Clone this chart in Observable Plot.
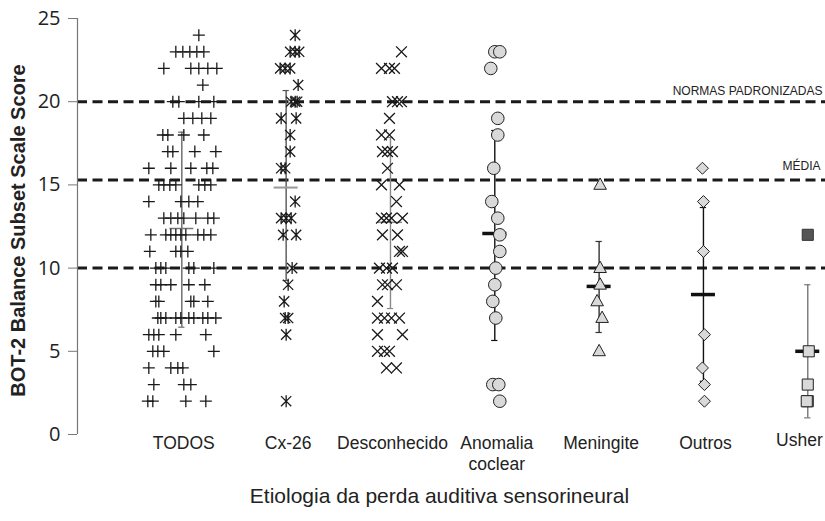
<!DOCTYPE html>
<html>
<head>
<meta charset="utf-8">
<script src="https://cdn.jsdelivr.net/npm/d3@7"></script>
<script src="https://cdn.jsdelivr.net/npm/@observablehq/plot@0.6"></script>
<style>
  html, body { margin: 0; padding: 0; background: #fff; }
</style>
</head>
<body>
<div id="chart"></div>
<script>
// ---------- data ----------
const categories = ["TODOS", "Cx-26", "Desconhecido", "Anomalia\ncoclear", "Meningite", "Outros", "Usher"];
const yTicks = [0, 5, 10, 15, 20, 25];
const refLines = [20, 15.3, 10];
const refLabels = ["NORMAS PADRONIZADAS", "MÉDIA"];
const yTitle = "BOT-2 Balance Subset Scale Score";
const xTitle = "Etiologia da perda auditiva sensorineural";

// scores of individual children, with the horizontal scatter seen in the picture (px)
const todosScores = [24, 23,23,23,23,23, 22,22,22,22,22, 21, 20,20,20,20, 19,19,19,19, 18,18,18,18, 17,17,17,17, 16,16,16,16,16, 15,15,15,15,15,15,15, 14,14,14,14, 13,13,13,13,13,13,13, 12,12,12,12,12,12,12,12,12, 11,11,11,11, 10,10,10,10,10,10, 9,9,9,9,9, 8,8,8,8,8, 7,7,7,7,7,7,7,7,7,7, 6,6,6,6,6, 5,5,5,5, 4,4,4,4, 3,3,3, 2,2,2,2];
const todosJitter = [17, -6,1,8,15,22, -18,9,17,26,35, 21, -9,-3,17,32, 2,11,20,29, -19,-14,2,22, -14,-9,13,34, -33,-11,9,25,31, -23,-18,-12,-6,17,23,29, -33,-1,7,16, -18,-11,-4,2,14,26,32, -31,-16,-11,-6,-1,4,16,22,29, -32,-6,-1,6, -26,-21,-16,7,12,32, -26,-21,-11,7,23, -26,-23,9,12,26, -24,-21,-16,-6,-1,7,12,21,26,34, -33,-28,-23,-6,24, -29,-24,-18,32, -33,-11,-4,1, -28,2,9, -34,-29,4,24];

const cx26Scores = [24, 23,23,23, 22,22,22, 21, 20,20,20, 19,19, 18, 17, 16,16, 14, 13,13,13, 12,12, 10, 9, 8, 7,7, 6, 2];
const cx26Jitter = [9, 4,9,13, -6,-1,4, 12, 5,9,11, -5,10, 4, 4, -5,-1, 9, -5,0,5, -3,10, 6, 2, -2, -1,2, 0, 0];

const descScores = [23, 22,22,22, 20,20,20, 19, 18,18, 17,17,17, 16, 15,15, 14, 13,13,13,13, 12,12, 11,11, 10,10,10, 9,9,9, 8, 7,7,7,7, 6,6, 5,5,5, 4,4];
const descJitter = [11, -9,-1,4, 2,7,11, -1, -9,-1, -8,-3,2, -3, -9,9, 6, -9,-4,1,12, -8,7, 9,12, -11,-4,2, -8,-3,6, -13, -13,-6,1,9, -13,12, -13,-6,-1, -4,6];

const anomScores = [23,23, 22, 19, 18, 16, 14, 13, 12, 11, 10, 9, 8, 7, 3,3, 2];
const anomJitter = [0,5, -4, 3, 3, -1, -3, 3, 5, 5, 1, 0, -2, 1, -2,4, 5];

const meningScores = [15, 10, 9, 8, 7, 5];
const meningJitter = [1, 1, 1, -2, 3, 0];

const outrosScores = [16, 14, 11, 6, 4, 3, 2];
const outrosJitter = [-1, 0, 0, 1, -1, 1, 1];

const usherScores = [5, 3, 2, 2];
const usherJitter = [1, 0, 0, -1];
const usherOutlier = [12];

// group mean and ±1 SD bars
const groupMeans = [12.38, 14.84, 12.75, 12.08, 8.9, 8.41, 5.0];
const groupLows  = [6.45, 9.25, 7.57, 5.65, 6.13, 3.2, 1.0];
const groupHighs = [18.17, 20.67, 17.85, 18.27, 11.6, 13.64, 9.0];

// ---------- styles ----------
const barStroke  = ["#666", "#555", "#888", "#111", "#333", "#111", "#777"];
const meanStroke = ["#777", "#999", "#888", "#111", "#111", "#111", "#111"];
const meanWidth  = [1.5, 2, 1.5, 3.5, 3.5, 3.5, 3.5];
const PX = 104.32; // one category step in px (used to convert scatter)

const plusSym = {draw(c, s) { const r = Math.sqrt(s / Math.PI); c.moveTo(-r, 0); c.lineTo(r, 0); c.moveTo(0, -r); c.lineTo(0, r); }};
const timesSym = {draw(c, s) { const r = Math.sqrt(s / Math.PI) * 0.9; c.moveTo(-r, -r); c.lineTo(r, r); c.moveTo(-r, r); c.lineTo(r, -r); }};
const starSym = {draw(c, s) { const r = Math.sqrt(s / Math.PI); const q = r * 0.85; c.moveTo(-q, -q); c.lineTo(q, q); c.moveTo(-q, q); c.lineTo(q, -q); c.moveTo(0, -r); c.lineTo(0, r); }};
const triSym = {draw(c, s) { const r = Math.sqrt(s / Math.PI); c.moveTo(0, -r * 1.1); c.lineTo(r, r * 0.7); c.lineTo(-r, r * 0.7); c.closePath(); }};
const diaSym = {draw(c, s) { const r = Math.sqrt(s / Math.PI); c.moveTo(0, -r); c.lineTo(r, 0); c.lineTo(0, r); c.lineTo(-r, 0); c.closePath(); }};
const sqSym = {draw(c, s) { const r = Math.sqrt(s / Math.PI) * 0.88; c.moveTo(-r, -r); c.lineTo(r, -r); c.lineTo(r, r); c.lineTo(-r, r); c.closePath(); }};

const rows = (cat, scores, jitter) => scores.map((v, k) => ({cat, score: v, x: cat + (jitter ? jitter[k] : 0) / PX}));

const idx = categories.map((_, i) => i);
const marks = [];

// reference dashed lines
marks.push(Plot.ruleY(refLines, {stroke: "#1a1a1a", strokeWidth: 3, strokeDasharray: "10 5.5"}));
marks.push(Plot.text([refLabels[0]], {y: () => refLines[0], frameAnchor: "right", textAnchor: "end", lineAnchor: "bottom", dx: -3, dy: -7, fontSize: 12, fill: "#222"}));
marks.push(Plot.text([refLabels[1]], {y: () => refLines[1], frameAnchor: "right", textAnchor: "end", lineAnchor: "bottom", dx: -5, dy: -10, fontSize: 12, fill: "#222"}));

// y axis
marks.push(Plot.ruleX([-1], {y1: 0, y2: 25, stroke: "#777", strokeWidth: 1.2}));
marks.push(Plot.axisY({ticks: yTicks, tickSize: 9, tickPadding: 8, fontSize: 20, fontFamily: "'Open Sans', 'Noto Sans', sans-serif", stroke: "#777", fill: "#222", label: null}));

// error bars and means
idx.forEach(i => {
  marks.push(Plot.ruleX([i], {y1: groupLows[i], y2: groupHighs[i], stroke: barStroke[i], strokeWidth: 1.4}));
  marks.push(Plot.ruleY([groupLows[i], groupHighs[i]], {x1: i - 0.03, x2: i + 0.03, stroke: barStroke[i], strokeWidth: 1.2}));
  marks.push(Plot.ruleY([groupMeans[i]], {x1: i - 0.115, x2: i + 0.115, stroke: meanStroke[i], strokeWidth: meanWidth[i]}));
});

// individual scores
const lineDot = {x: "x", y: "score", r: 6, fill: "none", stroke: "#1a1a1a", strokeWidth: 1.3};
const shapeDot = {x: "x", y: "score", r: 6.3, fill: "#d9d9d9", stroke: "#222", strokeWidth: 1};
marks.push(Plot.dot(rows(0, todosScores, todosJitter), {...lineDot, symbol: plusSym}));
marks.push(Plot.dot(rows(1, cx26Scores, cx26Jitter), {...lineDot, symbol: starSym}));
marks.push(Plot.dot(rows(2, descScores, descJitter), {...lineDot, symbol: timesSym}));
marks.push(Plot.dot(rows(3, anomScores, anomJitter), {...shapeDot, symbol: "circle"}));
marks.push(Plot.dot(rows(4, meningScores, meningJitter), {...shapeDot, symbol: triSym}));
marks.push(Plot.dot(rows(5, outrosScores, outrosJitter), {...shapeDot, r: 6, symbol: diaSym}));
marks.push(Plot.dot(rows(6, usherScores, usherJitter), {...shapeDot, symbol: sqSym}));
marks.push(Plot.dot(rows(6, usherOutlier, null), {...shapeDot, fill: "#555", stroke: "#333", symbol: sqSym}));

// category labels
marks.push(Plot.text(categories.slice(0, 6), {x: (d, i) => i, frameAnchor: "bottom", lineAnchor: "top", dx: 2, dy: -1, fontSize: 17.5, lineHeight: 1.22, fill: "#222"}));
marks.push(Plot.text(categories.slice(6), {x: () => 6, frameAnchor: "bottom", lineAnchor: "top", textAnchor: "end", dx: 15, dy: -1, fontSize: 17.5, fill: "#222"}));

// axis titles
marks.push(Plot.text([yTitle], {frameAnchor: "left", textAnchor: "middle", rotate: -90, dx: -59, dy: 4, fontSize: 20, fontWeight: "bold", fill: "#222"}));
marks.push(Plot.text([xTitle], {frameAnchor: "bottom", dx: -12, dy: 68, fontSize: 21, fill: "#222"}));

const chart = Plot.plot({
  width: 825,
  height: 521,
  marginLeft: 77,
  marginRight: 0,
  marginTop: 18,
  marginBottom: 87,
  x: {domain: [-1, 6.17], axis: null},
  y: {domain: [0, 25], axis: null},
  style: {fontFamily: "'Liberation Sans', Arial, sans-serif", background: "#fff", color: "#222", overflow: "visible"},
  marks
});
document.getElementById("chart").appendChild(chart);
</script>
</body>
</html>
